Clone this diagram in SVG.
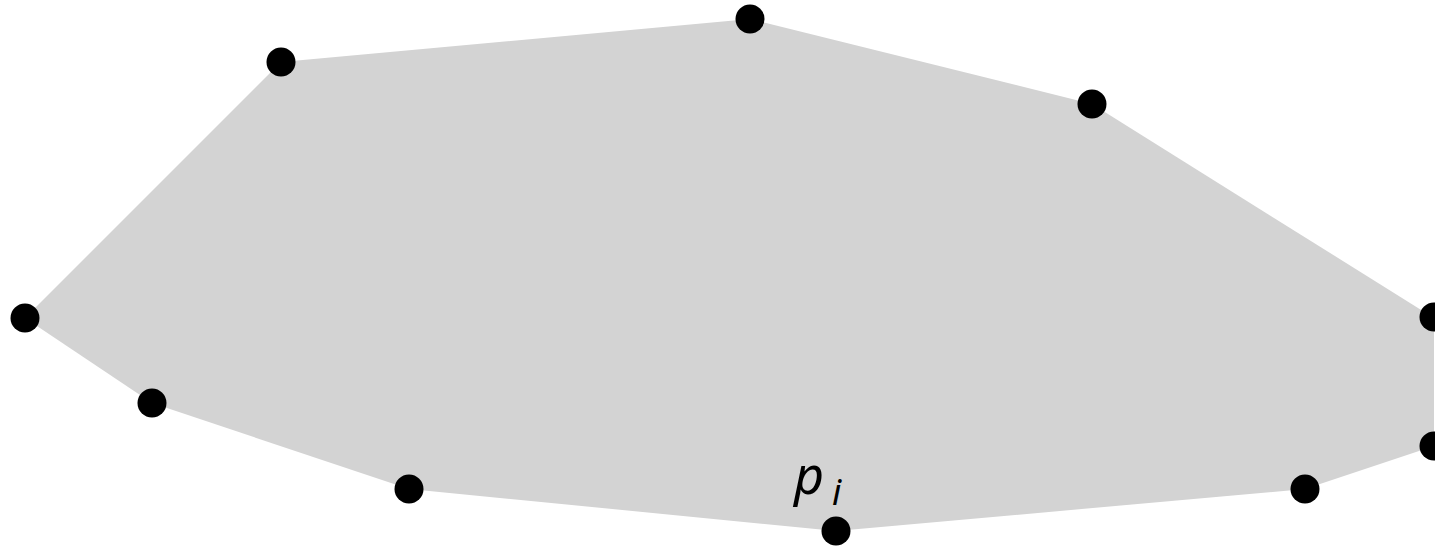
<svg xmlns="http://www.w3.org/2000/svg" width="1435" height="548" viewBox="0 0 1435 548">
<style>
.pt{fill:#000}
.lbl{font-family:"Noto Sans","DejaVu Sans",sans-serif;font-style:italic;fill:#000}
</style>
<rect width="1435" height="548" fill="#fff"/>
<g id="hull">
<polygon points="281,62 750,19 1092,104 1434,318 1434,446 1305,489 836,531 409,489 152,403 25,318" fill="#d3d3d3"/>
</g>
<g id="points">
<circle class="pt" cx="281" cy="62" r="14.5"/>
<circle class="pt" cx="750" cy="19" r="14.5"/>
<circle class="pt" cx="1092" cy="104" r="14.5"/>
<circle class="pt" cx="1434" cy="317" r="14.5"/>
<circle class="pt" cx="1434" cy="446" r="14.5"/>
<circle class="pt" cx="1305" cy="489" r="14.5"/>
<circle class="pt" cx="836" cy="531" r="14.5"/>
<circle class="pt" cx="409" cy="489" r="14.5"/>
<circle class="pt" cx="152" cy="403" r="14.5"/>
<circle class="pt" cx="25" cy="318" r="14.5"/>
</g>
<g id="label">
<text class="lbl" x="794" y="494" font-size="52">p</text>
<text class="lbl" x="832" y="505" font-size="36">i</text>
</g>
</svg>
